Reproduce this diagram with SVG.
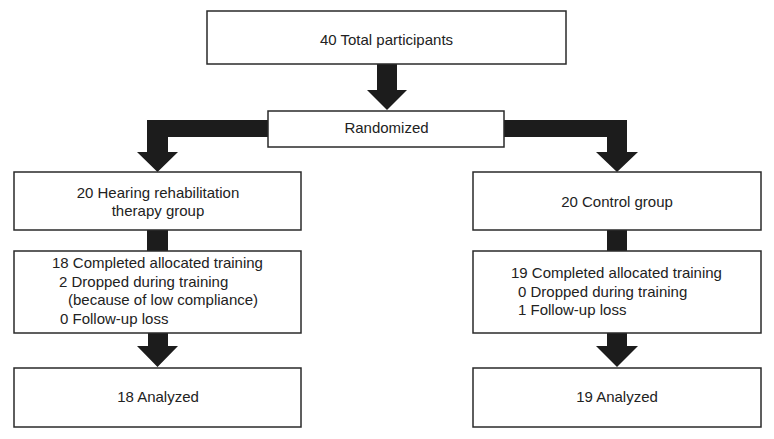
<svg xmlns="http://www.w3.org/2000/svg" width="774" height="439" viewBox="0 0 774 439">
<style>
.box{fill:#fff;stroke:#2a2a2a;stroke-width:1.5}
.t{font-family:"Liberation Sans",Arial,sans-serif;font-size:15px;fill:#222}
.c{text-anchor:middle}
.arr{fill:#1c1c1c;stroke:none}
</style>
<rect width="774" height="439" fill="#fff"/>
<g id="connectors">
<polygon class="arr" points="377,64 397,64 397,90 407,90 387,110 367,90 377,90"/>
<polygon class="arr" points="268,120 147,120 147,152 137,152 157.5,172 178,152 168,152 168,137 268,137"/>
<polygon class="arr" points="504,120 627,120 627,152 638,152 617,172 596,152 607,152 607,137 504,137"/>
<rect class="arr" x="147" y="230" width="21" height="21"/>
<rect class="arr" x="607" y="230" width="20" height="21"/>
<polygon class="arr" points="148,333 168,333 168,346 178,346 157.5,367 137,346 148,346"/>
<polygon class="arr" points="607,333 627,333 627,346 638,346 617,367 596,346 607,346"/>
</g>
<g id="total">
<rect class="box" x="207" y="11" width="359" height="53"/>
<text class="t c" x="386.5" y="45">40 Total participants</text>
</g>
<g id="randomized">
<rect class="box" x="268" y="111" width="236" height="36"/>
<text class="t c" x="386.5" y="133">Randomized</text>
</g>
<g id="hearing-group">
<rect class="box" x="14" y="172" width="287" height="58"/>
<text class="t c" x="158" y="198">20 Hearing rehabilitation</text>
<text class="t c" x="158" y="216">therapy group</text>
</g>
<g id="control-group">
<rect class="box" x="473" y="172" width="288" height="58"/>
<text class="t c" x="617" y="207">20 Control group</text>
</g>
<g id="hearing-training">
<rect class="box" x="14" y="251" width="287" height="82"/>
<text class="t" x="52" y="268">18 Completed allocated training</text>
<text class="t" x="59" y="287">2 Dropped during training</text>
<text class="t" x="68" y="305">(because of low compliance)</text>
<text class="t" x="60" y="324">0 Follow-up loss</text>
</g>
<g id="control-training">
<rect class="box" x="473" y="251" width="288" height="82"/>
<text class="t" x="511" y="278">19 Completed allocated training</text>
<text class="t" x="518" y="297">0 Dropped during training</text>
<text class="t" x="518" y="315">1 Follow-up loss</text>
</g>
<g id="hearing-analyzed">
<rect class="box" x="14" y="368" width="287" height="59"/>
<text class="t c" x="158" y="402">18 Analyzed</text>
</g>
<g id="control-analyzed">
<rect class="box" x="473" y="368" width="288" height="59"/>
<text class="t c" x="617" y="402">19 Analyzed</text>
</g>
</svg>
